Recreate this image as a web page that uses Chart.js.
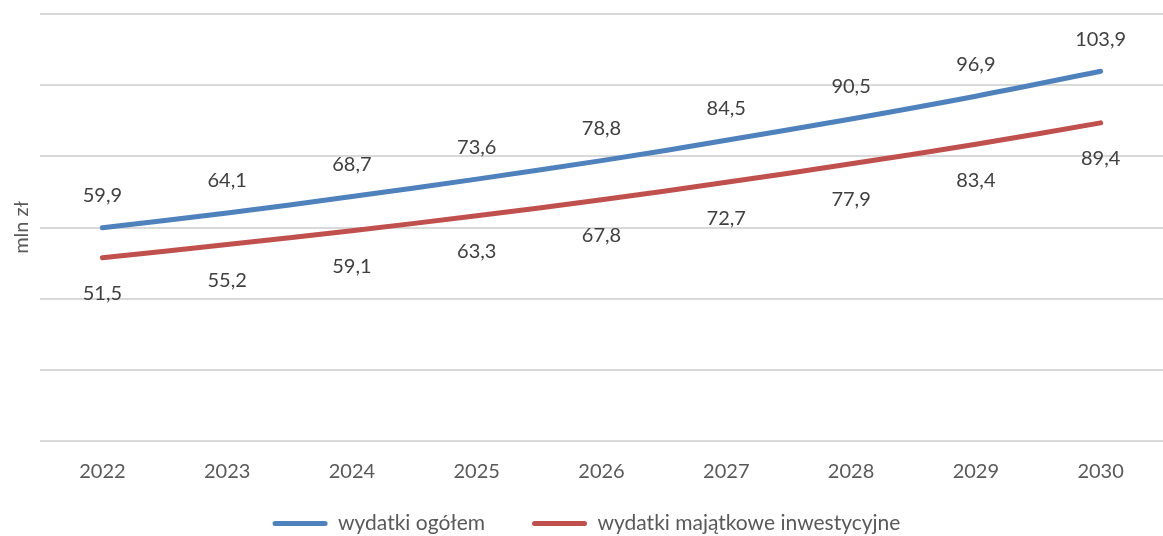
<!DOCTYPE html>
<html>
<head>
<meta charset="utf-8">
<script src="https://cdn.jsdelivr.net/npm/chart.js@4"></script>
<style>
  body { margin: 0; background: #fff; }
  #wrap { width: 1163px; height: 536px; }
</style>
</head>
<body>
<div id="wrap"><canvas id="plot"></canvas></div>
<script>
var years = ['2022', '2023', '2024', '2025', '2026', '2027', '2028', '2029', '2030'];
var ogolem = [59.9, 64.1, 68.7, 73.6, 78.8, 84.5, 90.5, 96.9, 103.9];
var inwest = [51.5, 55.2, 59.1, 63.3, 67.8, 72.7, 77.9, 83.4, 89.4];

var fontName = 'Lato, Open Sans, sans-serif';

// labels above the blue line, below the red one
var valueLabels = {
  id: 'valueLabels',
  afterDatasetsDraw: function (chart) {
    var c = chart.ctx;
    c.save();
    c.font = '20px ' + fontName;
    c.fillStyle = '#404040';
    c.textAlign = 'center';
    c.textBaseline = 'middle';
    chart.data.datasets.forEach(function (ds, i) {
      var meta = chart.getDatasetMeta(i);
      meta.data.forEach(function (pt, j) {
        var dy = i === 0 ? -32 : 36;
        c.fillText(ds.data[j].toFixed(1).replace('.', ','), pt.x, pt.y + dy);
      });
    });
    c.restore();
  }
};

var ctx = document.getElementById('plot').getContext('2d');
var myChart = new Chart(ctx, {
  type: 'line',
  data: {
    labels: years,
    datasets: [{
      label: 'wydatki ogółem',
      data: ogolem,
      borderColor: '#4F81BD',
      backgroundColor: '#4F81BD',
      borderWidth: 5,
      borderCapStyle: 'round',
      pointRadius: 0,
      tension: 0.4
    }, {
      label: 'wydatki majątkowe inwestycyjne',
      data: inwest,
      borderColor: '#C0504D',
      backgroundColor: '#C0504D',
      borderWidth: 5,
      borderCapStyle: 'round',
      pointRadius: 0,
      tension: 0.4
    }]
  },
  options: {
    responsive: true,
    maintainAspectRatio: false,
    animation: false,
    layout: { padding: { left: 10, right: 0, top: 14, bottom: 0 } },
    plugins: {
      legend: {
        position: 'bottom',
        maxHeight: 41,
        labels: {
          boxWidth: 55,
          boxHeight: 5,
          color: '#595959',
          font: { family: fontName, size: 21 },
          padding: 18,
          generateLabels: function (chart) {
            return chart.data.datasets.map(function (ds, i) {
              return {
                text: ds.label + (i === 0 ? '\u2003\u2002\u2009' : ''),
                fillStyle: ds.borderColor,
                strokeStyle: ds.borderColor,
                lineWidth: 0,
                borderRadius: 2.5,
                fontColor: '#595959',
                datasetIndex: i
              };
            });
          }
        }
      },
      tooltip: { enabled: false }
    },
    scales: {
      x: {
        offset: true,
        grid: { display: false },
        border: { display: false },
        ticks: { color: '#595959', font: { family: fontName, size: 20 }, padding: 11 }
      },
      y: {
        min: 0,
        max: 120,
        ticks: { display: false, stepSize: 20 },
        grid: { color: '#d9d9d9', lineWidth: 2, drawTicks: false },
        border: { display: false },
        title: {
          display: true,
          text: 'mln zł',
          color: '#595959',
          font: { family: fontName, size: 20 },
          padding: { top: 0, bottom: 6 }
        }
      }
    }
  },
  plugins: [valueLabels]
});
</script>
</body>
</html>
